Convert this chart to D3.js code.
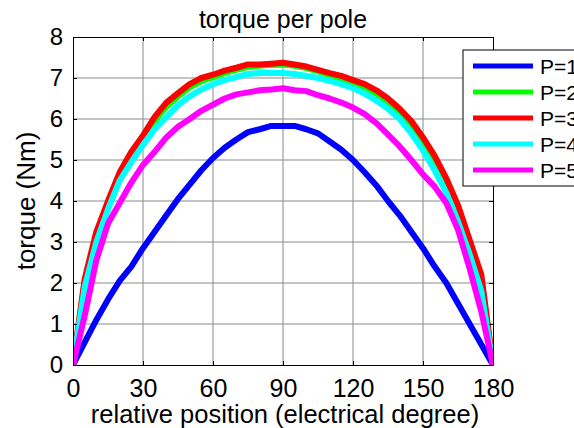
<!DOCTYPE html>
<html>
<head>
<meta charset="utf-8">
<script src="https://cdn.jsdelivr.net/npm/d3@7"></script>
<style>
  body { margin: 0; background: #fff; }
  text { font-family: "Liberation Sans", Arial, sans-serif; fill: #000; }
</style>
</head>
<body>
<div id="chart"></div>
<script>
// data, every 5 electrical degrees
const angles = d3.range(0, 181, 5);
const p1 = [0, 0.55, 1.1, 1.6, 2.05, 2.4, 2.85, 3.25, 3.65, 4.05, 4.4, 4.75, 5.05, 5.3, 5.5, 5.68, 5.75, 5.83, 5.83,
  5.83, 5.75, 5.65, 5.45, 5.25, 5.0, 4.7, 4.38, 4.0, 3.65, 3.25, 2.85, 2.4, 2.0, 1.5, 1.0, 0.5, 0];
const p2 = [0, 2.0, 3.15, 3.92, 4.62, 5.12, 5.52, 5.95, 6.3, 6.55, 6.77, 6.92, 7.02, 7.12, 7.2, 7.27, 7.3, 7.32, 7.33,
  7.3, 7.24, 7.16, 7.07, 6.98, 6.88, 6.77, 6.62, 6.42, 6.17, 5.87, 5.47, 5.0, 4.45, 3.8, 2.95, 2.05, 0];
const p3 = [0, 2.1, 3.25, 4.0, 4.7, 5.2, 5.6, 6.05, 6.4, 6.63, 6.85, 7.0, 7.08, 7.18, 7.25, 7.33, 7.33, 7.35, 7.37,
  7.33, 7.28, 7.2, 7.12, 7.05, 6.95, 6.85, 6.7, 6.5, 6.25, 5.95, 5.55, 5.1, 4.55, 3.9, 3.05, 2.2, 0];
const p4 = [0, 1.9, 3.0, 3.8, 4.5, 4.95, 5.37, 5.75, 6.05, 6.34, 6.55, 6.72, 6.85, 6.95, 7.02, 7.1, 7.12, 7.12, 7.12,
  7.1, 7.05, 7.0, 6.93, 6.85, 6.75, 6.62, 6.45, 6.25, 6.0, 5.65, 5.23, 4.75, 4.2, 3.5, 2.7, 1.8, 0];
const p5 = [0, 1.2, 2.55, 3.45, 3.95, 4.45, 4.88, 5.2, 5.55, 5.81, 6.0, 6.2, 6.35, 6.5, 6.6, 6.65, 6.7, 6.72, 6.75,
  6.7, 6.68, 6.58, 6.5, 6.4, 6.28, 6.12, 5.9, 5.62, 5.33, 5.0, 4.65, 4.35, 3.95, 3.3, 2.35, 1.3, 0];
const seriesNames = ["P=1", "P=2", "P=3", "P=4", "P=5"];
const seriesColors = ["#0000ff", "#00ff00", "#ff0000", "#00ffff", "#ff00ff"];
const xTicks = [0, 30, 60, 90, 120, 150, 180];
const yTicks = [0, 1, 2, 3, 4, 5, 6, 7, 8];

const series = [p1, p2, p3, p4, p5];

// set the dimensions and margins of the graph
const W = 574, H = 428;
const margin = {top: 37, right: 81, bottom: 63, left: 73},
    width = W - margin.left - margin.right,
    height = H - margin.top - margin.bottom;

const svg = d3.select("#chart")
  .append("svg")
    .attr("width", W)
    .attr("height", H);

const g = svg.append("g")
    .attr("transform", `translate(${margin.left}, ${margin.top})`);

// scales
const x = d3.scaleLinear().domain([0, 180]).range([0, width]);
const y = d3.scaleLinear().domain([0, 8]).range([height, 0]);

// grid
g.append("g")
  .selectAll("line")
  .data(xTicks.slice(1, -1))
  .join("line")
    .attr("x1", d => x(d)).attr("x2", d => x(d))
    .attr("y1", 0).attr("y2", height)
    .attr("stroke", "#8a8a8a").attr("stroke-width", 1);
g.append("g")
  .selectAll("line")
  .data(yTicks.slice(1, -1))
  .join("line")
    .attr("x1", 0).attr("x2", width)
    .attr("y1", d => y(d)).attr("y2", d => y(d))
    .attr("stroke", "#8a8a8a").attr("stroke-width", 1);

// lines
g.append("clipPath").attr("id", "clip")
  .append("rect").attr("width", width).attr("height", height);

const line = d3.line()
  .x((d, i) => x(angles[i]))
  .y(d => y(d));

g.append("g").attr("clip-path", "url(#clip)")
  .selectAll("path")
  .data(series)
  .join("path")
    .attr("d", line)
    .attr("fill", "none")
    .attr("stroke", (d, i) => seriesColors[i])
    .attr("stroke-width", 6)
    .attr("stroke-linejoin", "round");

// axes: ticks pointing inwards, labels on bottom and left
const xAxis = g.append("g")
  .attr("transform", `translate(0, ${height})`)
  .call(d3.axisBottom(x).tickValues(xTicks).tickSizeInner(-4).tickSizeOuter(0).tickPadding(14));
const yAxis = g.append("g")
  .call(d3.axisLeft(y).tickValues(yTicks).tickSizeInner(-4).tickSizeOuter(0).tickPadding(10));
g.append("g")
  .call(d3.axisTop(x).tickValues(xTicks).tickSizeInner(-4).tickSizeOuter(0).tickFormat(""));
g.append("g")
  .attr("transform", `translate(${width}, 0)`)
  .call(d3.axisRight(y).tickValues(yTicks).tickSizeInner(-4).tickSizeOuter(0).tickFormat(""));

g.selectAll(".domain").attr("stroke", "#000");
g.selectAll(".tick line").attr("stroke", "#000");
xAxis.selectAll("text").style("font-size", "25px").attr("dy", "0.71em");
yAxis.selectAll("text").style("font-size", "24px");

// title and axis labels
svg.append("text")
  .attr("x", margin.left + width / 2).attr("y", 28)
  .attr("text-anchor", "middle")
  .style("font-size", "25px")
  .text("torque per pole");
svg.append("text")
  .attr("x", margin.left + width / 2 + 2).attr("y", 423)
  .attr("text-anchor", "middle")
  .style("font-size", "25.5px")
  .text("relative position (electrical degree)");
svg.append("text")
  .attr("transform", `translate(35, ${margin.top + height / 2}) rotate(-90)`)
  .attr("text-anchor", "middle")
  .style("font-size", "26px")
  .text("torque (Nm)");

// legend (runs off the right edge like the original)
const legend = svg.append("g").attr("transform", "translate(463, 50)");
legend.append("rect")
  .attr("width", 130).attr("height", 136)
  .attr("fill", "#fff").attr("stroke", "#000").attr("stroke-width", 1);
const row = legend.selectAll("g.row")
  .data(seriesNames)
  .join("g")
    .attr("class", "row")
    .attr("transform", (d, i) => `translate(0, ${16 + i * 26})`);
row.append("line")
  .attr("x1", 10).attr("x2", 70)
  .attr("stroke", (d, i) => seriesColors[i])
  .attr("stroke-width", 5);
row.append("text")
  .attr("x", 77).attr("dy", "0.36em")
  .style("font-size", "21px")
  .text(d => d);
</script>
</body>
</html>
